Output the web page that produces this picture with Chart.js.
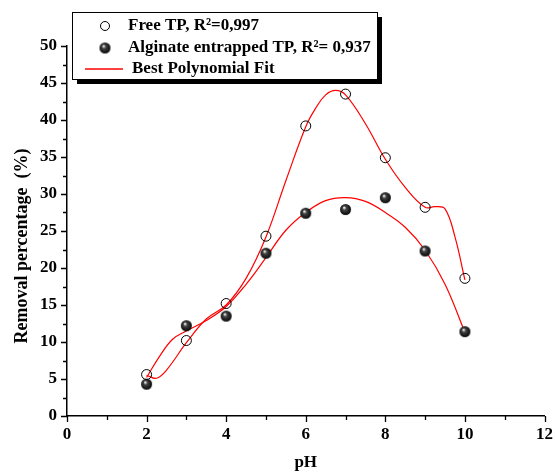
<!DOCTYPE html>
<html>
<head>
<meta charset="UTF-8">
<title>Removal percentage vs pH</title>
<script src="https://cdn.jsdelivr.net/npm/chart.js"></script>
<style>
  html, body { margin: 0; padding: 0; background: #fff; }
  #wrap { width: 555px; height: 472px; }
</style>
</head>
<body>
<div id="wrap"><canvas id="grafico"></canvas></div>
<script>
// valores
const ph = [2, 3, 4, 5, 6, 7, 8, 9, 10];
const freeTP = [5.6, 10.2, 15.2, 24.3, 39.2, 43.5, 34.9, 28.2, 18.6];
const alginateTP = [4.3, 12.2, 13.5, 22.0, 27.4, 27.9, 29.5, 22.3, 11.4];

// curvas de ajuste
const fitFreeX = [2, 2.25, 2.5, 3, 3.5, 4, 4.5, 5, 5.5, 6, 6.25, 6.5, 6.75, 7, 7.5, 8, 8.5, 9, 9.25, 9.5, 9.75, 10];
const fitFreeY = [5.5, 5.1, 6.2, 9.9, 13.1, 15.0, 18.6, 24.2, 31.8, 39.1, 41.6, 43.4, 44.0, 43.4, 39.5, 34.7, 30.9, 28.2, 28.3, 28.0, 24.2, 18.4];
const fitAlgX = [2, 2.33, 2.66, 3, 3.5, 4, 4.5, 5, 5.5, 6, 6.5, 7, 7.5, 8, 8.5, 9, 9.5, 10];
const fitAlgY = [5.2, 8.1, 10.4, 11.5, 12.9, 14.8, 17.8, 21.4, 25.1, 27.5, 29.1, 29.5, 29.0, 27.5, 25.5, 22.4, 17.8, 11.3];

const legendLabels = ['Free TP, R\u00b2=0,997', 'Alginate entrapped TP, R\u00b2= 0,937', 'Best Polynomial Fit'];
const xTitle = 'pH';
const yTitle = 'Removal percentage  (%)';

const fonte = '"Liberation Serif", "Times New Roman", serif';

function bolinha(r) {
  const c = document.createElement('canvas');
  c.width = c.height = 2 * r + 2;
  const g = c.getContext('2d');
  const grd = g.createRadialGradient(r - 0.5, r - 1, 0.3, r + 1, r + 1, r + 0.5);
  grd.addColorStop(0, '#ffffff');
  grd.addColorStop(0.3, '#444');
  grd.addColorStop(1, '#000');
  g.fillStyle = grd;
  g.beginPath();
  g.arc(r + 1, r + 1, r, 0, 2 * Math.PI);
  g.fill();
  return c;
}
const ball = bolinha(5.5);

const pares = (xs, ys) => xs.map((x, i) => ({ x: x, y: ys[i] }));

// ticks menores, títulos e legenda desenhados à mão
const extras = {
  id: 'extras',
  afterDraw(chart) {
    const ctx = chart.ctx;
    const xs = chart.scales.x, ys = chart.scales.y;
    ctx.save();
    ctx.strokeStyle = '#000';
    ctx.lineWidth = 1.3;
    ctx.beginPath();
    for (let v = 0; v <= 12; v++) {
      const px = Math.round(xs.getPixelForValue(v)) + 0.5;
      const len = v % 2 === 0 ? 6 : 4;
      ctx.moveTo(px, ys.bottom);
      ctx.lineTo(px, ys.bottom + len);
    }
    for (let k = 0; k <= 20; k++) {
      const py = Math.round(ys.getPixelForValue(k * 2.5)) + 0.5;
      const len = k % 2 === 0 ? 6 : 4;
      ctx.moveTo(xs.left, py);
      ctx.lineTo(xs.left - len, py);
    }
    ctx.stroke();

    // títulos dos eixos
    ctx.fillStyle = '#000';
    ctx.textAlign = 'center';
    ctx.textBaseline = 'middle';
    ctx.font = 'bold 17px ' + fonte;
    ctx.fillText(xTitle, (xs.left + xs.right) / 2, 463);
    ctx.save();
    ctx.translate(22, 246);
    ctx.rotate(-Math.PI / 2);
    ctx.font = 'bold 18px ' + fonte;
    ctx.fillText(yTitle, 0, 0);
    ctx.restore();

    // caixa da legenda com sombra
    const bx = 72, by = 12, bw = 305, bh = 67;
    ctx.fillStyle = '#000';
    ctx.fillRect(bx + 5, by + 5, bw, bh);
    ctx.fillStyle = '#fff';
    ctx.fillRect(bx, by, bw, bh);
    ctx.lineWidth = 1;
    ctx.strokeRect(bx + 0.5, by + 0.5, bw, bh);

    ctx.font = 'bold 17px ' + fonte;
    ctx.fillStyle = '#000';
    ctx.textBaseline = 'middle';
    ctx.textAlign = 'left';
    ctx.beginPath();
    ctx.arc(105, 26, 4.5, 0, 2 * Math.PI);
    ctx.lineWidth = 1;
    ctx.stroke();
    ctx.fillText(legendLabels[0], 128, 26);
    ctx.drawImage(ball, 105 - ball.width / 2, 48 - ball.height / 2);
    ctx.fillText(legendLabels[1], 128, 48);
    ctx.beginPath();
    ctx.strokeStyle = '#ff0000';
    ctx.lineWidth = 1.3;
    ctx.moveTo(85, 69);
    ctx.lineTo(123, 69);
    ctx.stroke();
    ctx.fillText(legendLabels[2], 132, 69);
    ctx.restore();
  }
};

const config = {
  type: 'scatter',
  data: {
    datasets: [
      {
        label: legendLabels[0],
        data: pares(ph, freeTP),
        pointStyle: 'circle',
        pointRadius: 5,
        pointBorderColor: '#000',
        pointBackgroundColor: 'rgba(255,255,255,0)',
        pointBorderWidth: 1,
        showLine: false
      },
      {
        label: legendLabels[1],
        data: pares(ph, alginateTP),
        pointStyle: ball,
        pointRadius: 6,
        showLine: false
      },
      {
        label: legendLabels[2],
        data: pares(fitFreeX, fitFreeY),
        showLine: true,
        pointRadius: 0,
        borderColor: 'red',
        borderWidth: 1.2,
        tension: 0.4
      },
      {
        label: legendLabels[2],
        data: pares(fitAlgX, fitAlgY),
        showLine: true,
        pointRadius: 0,
        borderColor: 'red',
        borderWidth: 1.2,
        tension: 0.4
      }
    ]
  },
  options: {
    responsive: false,
    animation: false,
    layout: { padding: { top: 46, right: 8, left: 0, bottom: 0 } },
    plugins: {
      legend: { display: false },
      tooltip: { enabled: false }
    },
    scales: {
      x: {
        type: 'linear',
        min: 0,
        max: 12,
        afterFit: (s) => { s.height = 56; },
        ticks: {
          stepSize: 2,
          color: '#000',
          padding: 2,
          font: { family: fonte, size: 17, weight: 'bold' }
        },
        grid: { drawOnChartArea: false, tickLength: 6, tickColor: 'rgba(0,0,0,0)' },
        border: { color: '#000', width: 1.5 },
        title: { display: false }
      },
      y: {
        type: 'linear',
        min: 0,
        max: 50,
        afterFit: (s) => { s.width = 67; },
        ticks: {
          stepSize: 5,
          color: '#000',
          padding: 4,
          font: { family: fonte, size: 17, weight: 'bold' }
        },
        grid: { drawOnChartArea: false, tickLength: 6, tickColor: 'rgba(0,0,0,0)' },
        border: { color: '#000', width: 1.5 },
        title: { display: false }
      }
    }
  },
  plugins: [extras]
};

const cv = document.getElementById('grafico');
cv.width = 555;
cv.height = 472;
new Chart(cv.getContext('2d'), config);
</script>
</body>
</html>
